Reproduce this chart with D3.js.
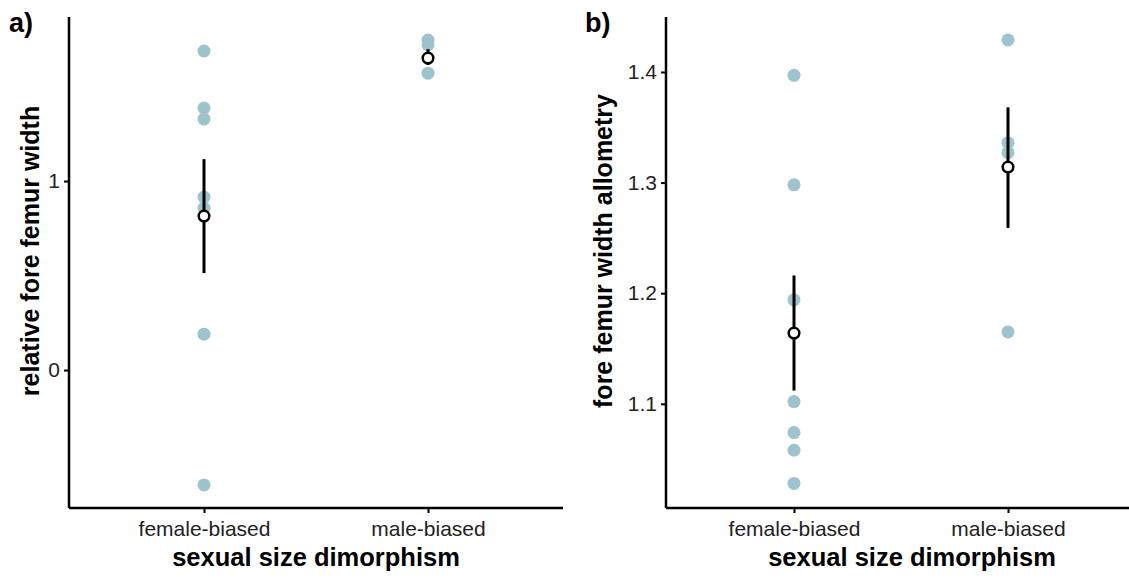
<!DOCTYPE html>
<html>
<head>
<meta charset="utf-8">
<script src="https://cdn.jsdelivr.net/npm/d3@7"></script>
<style>
  body { margin: 0; background: #fff; }
  text { font-family: "Liberation Sans", Arial, sans-serif; }
</style>
</head>
<body>
<div id="chart"></div>
<script>
// categories on the x axis
const groups = ["female-biased", "male-biased"];

// panel a: relative fore femur width
const relWidthFemale = [1.688, 1.386, 1.328, 0.915, 0.857, 0.19, -0.608];
const relWidthMale = [1.746, 1.72, 1.571];
const relWidthMean = [0.815, 1.651];
const relWidthLow = [0.513, 1.614];
const relWidthHigh = [1.116, 1.698];
const relWidthTicks = [0, 1];

// panel b: fore femur width allometry
const allomFemale = [1.397, 1.298, 1.194, 1.102, 1.074, 1.058, 1.028];
const allomMale = [1.429, 1.336, 1.327, 1.165];
const allomMean = [1.164, 1.314];
const allomLow = [1.112, 1.259];
const allomHigh = [1.216, 1.368];
const allomTicks = [1.1, 1.2, 1.3, 1.4];

const width = 1129, height = 580;
const pointColor = "#9dc3cd";

const svg = d3.select("#chart").append("svg")
    .attr("width", width)
    .attr("height", height);

function drawPanel(opts){
    const g = svg.append("g");

    const x = d3.scalePoint()
        .domain(groups)
        .range([opts.left + opts.pad, opts.right - opts.pad]);

    const y = d3.scaleLinear()
        .domain(opts.yDomain)
        .range([508, 17]);

    // raw points
    const pts = [];
    opts.female.forEach(v => pts.push({g: groups[0], v: v}));
    opts.male.forEach(v => pts.push({g: groups[1], v: v}));

    g.selectAll("circle.pt")
        .data(pts)
        .join("circle")
        .attr("class", "pt")
        .attr("cx", d => x(d.g))
        .attr("cy", d => y(d.v))
        .attr("r", 6.5)
        .attr("fill", pointColor);

    // error bars
    g.selectAll("line.err")
        .data(groups)
        .join("line")
        .attr("class", "err")
        .attr("x1", d => x(d))
        .attr("x2", d => x(d))
        .attr("y1", (d, i) => y(opts.low[i]))
        .attr("y2", (d, i) => y(opts.high[i]))
        .attr("stroke", "#000")
        .attr("stroke-width", 3);

    // means
    g.selectAll("circle.mean")
        .data(groups)
        .join("circle")
        .attr("class", "mean")
        .attr("cx", d => x(d))
        .attr("cy", (d, i) => y(opts.mean[i]))
        .attr("r", 5.3)
        .attr("fill", "#fff")
        .attr("stroke", "#000")
        .attr("stroke-width", 2.5);

    // y axis
    const yAxis = g.append("g")
        .attr("transform", "translate(" + opts.left + ",0)")
        .call(d3.axisLeft(y).tickValues(opts.ticks).tickSize(5).tickPadding(4).tickFormat(d3.format("")));
    yAxis.select(".domain").attr("d", "M0,17V508").attr("stroke-width", 2.5);
    yAxis.selectAll(".tick line").attr("stroke-width", 2);
    yAxis.selectAll(".tick text")
        .attr("font-size", 21)
        .attr("fill", "#222")
        .style("font-family", "Liberation Sans, Arial, sans-serif");

    // x axis
    const xAxis = g.append("g")
        .attr("transform", "translate(0,508)")
        .call(d3.axisBottom(x).tickSize(5).tickPadding(8));
    xAxis.select(".domain").attr("d", "M" + opts.left + ",0H" + opts.right).attr("stroke-width", 2.5);
    xAxis.selectAll(".tick line").attr("stroke-width", 2);
    xAxis.selectAll(".tick text")
        .attr("font-size", 21)
        .attr("fill", "#222")
        .style("font-family", "Liberation Sans, Arial, sans-serif");

    // axis titles
    g.append("text")
        .attr("x", opts.titleX)
        .attr("y", 566)
        .attr("text-anchor", "middle")
        .attr("font-size", 25.5)
        .attr("font-weight", "bold")
        .text("sexual size dimorphism");

    g.append("text")
        .attr("transform", "translate(" + opts.yTitleX + ",251) rotate(-90)")
        .attr("text-anchor", "middle")
        .attr("font-size", 25)
        .attr("font-weight", "bold")
        .text(opts.yTitle);

    // panel tag
    g.append("text")
        .attr("x", opts.tagX)
        .attr("y", 32)
        .attr("font-size", 27)
        .attr("font-weight", "bold")
        .text(opts.tag);
}

drawPanel({
    left: 69, right: 563, pad: 135,
    yDomain: [-0.730, 1.868],
    female: relWidthFemale, male: relWidthMale,
    mean: relWidthMean, low: relWidthLow, high: relWidthHigh,
    ticks: relWidthTicks,
    yTitle: "relative fore femur width", yTitleX: 39,
    titleX: 316, tag: "a)", tagX: 9
});

drawPanel({
    left: 666, right: 1136, pad: 128,
    yDomain: [1.0058, 1.4497],
    female: allomFemale, male: allomMale,
    mean: allomMean, low: allomLow, high: allomHigh,
    ticks: allomTicks,
    yTitle: "fore femur width allometry", yTitleX: 612,
    titleX: 912, tag: "b)", tagX: 585
});
</script>
</body>
</html>
